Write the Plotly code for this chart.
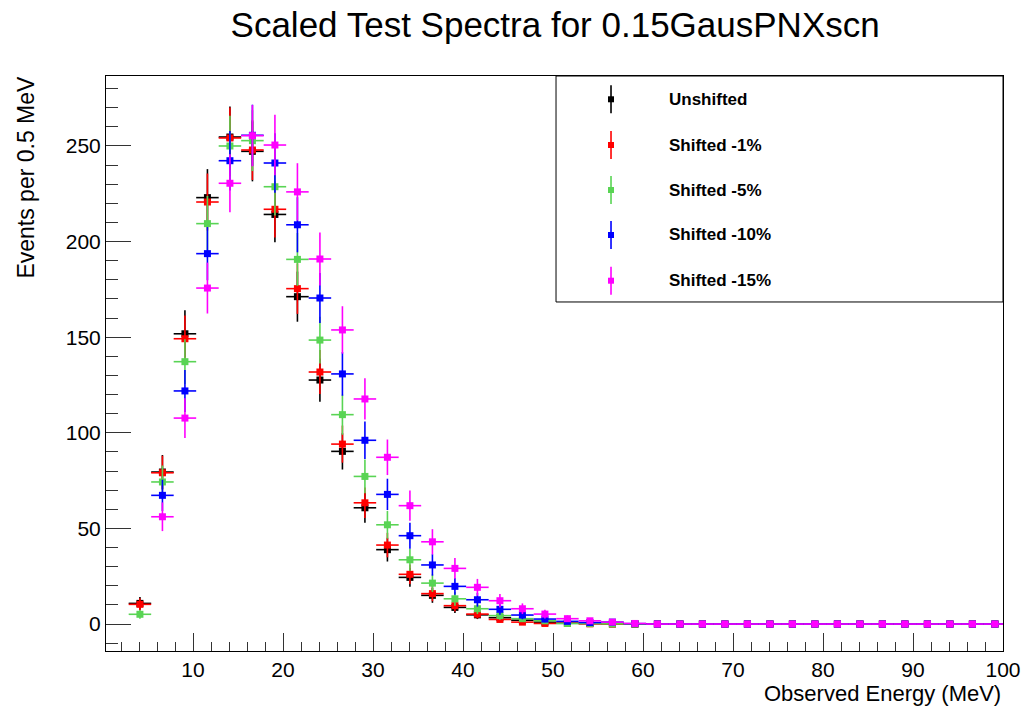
import plotly.graph_objects as go

# ---------------- data ----------------
energy = [4.1, 6.6, 9.1, 11.6, 14.1, 16.6, 19.1, 21.6, 24.1, 26.6, 29.1, 31.6, 34.1,
          36.6, 39.1, 41.6, 44.1, 46.6, 49.1, 51.6, 54.1, 56.6, 59.1, 61.6, 64.1,
          66.6, 69.1, 71.6, 74.1, 76.6, 79.1, 81.6, 84.1, 86.6, 89.1, 91.6, 94.1,
          96.6, 99.1]
bin_half_width = 1.25

tail_zeros = [0] * 16

unshifted = [10.8, 79.5, 151.8, 223.0, 254.7, 247.2, 214.2, 171.2, 127.6, 90.3, 60.8,
             38.9, 24.4, 15.0, 8.7, 4.8, 3.3, 2.0, 1.0, 0.4, 0.3, 0.1, 0] + tail_zeros
unshifted_err = [3.3, 8.9, 12.3, 14.9, 16.0, 15.7, 14.6, 13.1, 11.3, 9.5, 7.8,
                 6.2, 4.9, 3.9, 2.9, 2.2, 1.8, 1.4, 1.0, 0.6, 0.5, 0.3, 0] + tail_zeros

shift1 = [10.3, 79.1, 149.2, 220.7, 254.2, 247.9, 216.9, 175.4, 131.8, 94.1, 63.4,
          41.3, 26.0, 15.9, 9.6, 5.2, 2.4, 1.0, 0.3, 0.5, 0.1, 0, 0] + tail_zeros
shift1_err = [3.2, 8.9, 12.2, 14.9, 15.9, 15.7, 14.7, 13.2, 11.5, 9.7, 8.0,
              6.4, 5.1, 4.0, 3.1, 2.3, 1.5, 1.0, 0.5, 0.7, 0.3, 0, 0] + tail_zeros

shift5 = [5.1, 74.3, 137.2, 209.4, 250.0, 252.8, 228.7, 190.7, 148.5, 109.5, 77.2,
          51.9, 33.6, 21.4, 13.2, 8.0, 4.4, 2.8, 1.7, 0.3, 0.3, 0.1, 0] + tail_zeros
shift5_err = [2.3, 8.6, 11.7, 14.5, 15.8, 15.9, 15.1, 13.8, 12.2, 10.5, 8.8,
              7.2, 5.8, 4.6, 3.6, 2.8, 2.1, 1.7, 1.3, 0.5, 0.5, 0.3, 0] + tail_zeros

shift10 = [None, 67.3, 121.9, 193.7, 242.3, 255.6, 241.1, 208.8, 170.5, 130.8, 96.1,
           67.8, 46.2, 30.9, 19.7, 12.7, 7.7, 4.7, 2.6, 1.4, 0.8, 1.0, 0.2] + tail_zeros
shift10_err = [0, 8.2, 11.0, 13.9, 15.6, 16.0, 15.5, 14.4, 13.1, 11.4, 9.8,
               8.2, 6.8, 5.6, 4.4, 3.6, 2.8, 2.2, 1.6, 1.2, 0.9, 1.0, 0.4] + tail_zeros

shift15 = [None, 56.1, 107.7, 175.7, 230.5, 255.4, 250.5, 226.0, 190.9, 153.8, 117.7,
           87.2, 61.9, 43.0, 29.1, 19.2, 12.2, 8.0, 5.2, 2.8, 1.7, 1.0, 0.3] + tail_zeros
shift15_err = [0, 7.5, 10.4, 13.3, 15.2, 16.0, 15.8, 15.0, 13.8, 12.4, 10.8,
               9.3, 7.9, 6.6, 5.4, 4.4, 3.5, 2.8, 2.3, 1.7, 1.3, 1.0, 0.5] + tail_zeros

series_names = ["Unshifted", "Shifted -1%", "Shifted -5%", "Shifted -10%", "Shifted -15%"]
series_vals = [unshifted, shift1, shift5, shift10, shift15]
series_errs = [unshifted_err, shift1_err, shift5_err, shift10_err, shift15_err]
series_colors = ["#000000", "#ff0000", "#59d454", "#0000ff", "#ff00ff"]

x_range = [0.33, 100.0]
y_range = [-14.1, 286.6]
y_ticks = [0, 50, 100, 150, 200, 250]
x_ticks = [10, 20, 30, 40, 50, 60, 70, 80, 90, 100]

FONT = "Liberation Sans, Arial, Helvetica, sans-serif"

# ---------------- figure ----------------
fig = go.Figure()
for name, vals, errs, col in zip(series_names, series_vals, series_errs, series_colors):
    fig.add_trace(go.Scatter(
        x=energy, y=vals, name=name, mode="markers",
        marker=dict(symbol="square", size=7, color=col, line=dict(width=0)),
        error_y=dict(type="data", array=errs, visible=True, color=col,
                     thickness=1.6, width=0),
        error_x=dict(type="constant", value=bin_half_width, visible=True, color=col,
                     thickness=1.6, width=0),
        showlegend=False,
    ))

fig.update_layout(
    width=1029, height=706,
    margin=dict(l=106, r=26, t=76, b=55),
    paper_bgcolor="white", plot_bgcolor="white",
    font=dict(family=FONT, color="black"),
    title=dict(text="Scaled Test Spectra for 0.15GausPNXscn",
               font=dict(size=35, family=FONT, color="black"),
               x=0.5395, xanchor="center", y=1 - 25 / 706, yanchor="middle",
               xref="container", yref="container"),
)

fig.update_xaxes(
    range=x_range, showgrid=False, zeroline=False, automargin=False,
    showline=True, linecolor="black", linewidth=1, mirror=True,
    ticks="inside", ticklen=18, tickwidth=1, tickcolor="#333",
    tickvals=x_ticks, ticktext=[str(v) for v in x_ticks],
    tickfont=dict(size=21, family=FONT, color="black"),
    minor=dict(ticks="inside", ticklen=9, tickwidth=1, tickcolor="#333", dtick=2, tick0=0),
)
fig.update_yaxes(
    range=y_range, showgrid=False, zeroline=False, automargin=False,
    showline=True, linecolor="black", linewidth=1, mirror=True,
    ticks="inside", ticklen=25, tickwidth=1, tickcolor="#333",
    tickvals=y_ticks, ticktext=[str(v) for v in y_ticks],
    tickfont=dict(size=21, family=FONT, color="black"),
    minor=dict(ticks="inside", ticklen=12, tickwidth=1, tickcolor="#333", dtick=10, tick0=0),
)

# axis titles (ROOT style: aligned to the axis end)
fig.add_annotation(text="Observed Energy (MeV)", xref="paper", yref="paper",
                   x=1.0, y=-0.0745, xanchor="right", yanchor="middle", showarrow=False,
                   font=dict(size=22, family=FONT, color="black"))
fig.add_annotation(text="Events per 0.5 MeV", xref="paper", yref="paper",
                   x=-0.0892, y=1.005, xanchor="center", yanchor="top", textangle=-90,
                   showarrow=False, font=dict(size=23, family=FONT, color="black"))

# legend box drawn ROOT-style
fig.add_shape(type="rect", xref="paper", yref="paper", x0=0.5017, x1=1.0, y0=0.607, y1=1.0,
              line=dict(color="black", width=1), fillcolor="white", layer="above")
leg_y = [0.9595, 0.880, 0.8017, 0.7235, 0.644]
leg_mark_x = 0.563
leg_text_x = 0.6254
for name, col, yy in zip(series_names, series_colors, leg_y):
    fig.add_shape(type="line", xref="paper", yref="paper", xsizemode="pixel", ysizemode="pixel",
                  xanchor=leg_mark_x, yanchor=yy, x0=0, x1=0, y0=-14, y1=14,
                  line=dict(color=col, width=1.6), layer="above")
    fig.add_shape(type="rect", xref="paper", yref="paper", xsizemode="pixel", ysizemode="pixel",
                  xanchor=leg_mark_x, yanchor=yy, x0=-3, x1=3, y0=-3, y1=3,
                  line=dict(width=0), fillcolor=col, layer="above")
    fig.add_annotation(text="<b>" + name + "</b>", xref="paper", yref="paper",
                       x=leg_text_x, y=yy, xanchor="left", yanchor="middle", showarrow=False,
                       font=dict(size=17, family=FONT, color="black"))

fig.write_html("out.html")
